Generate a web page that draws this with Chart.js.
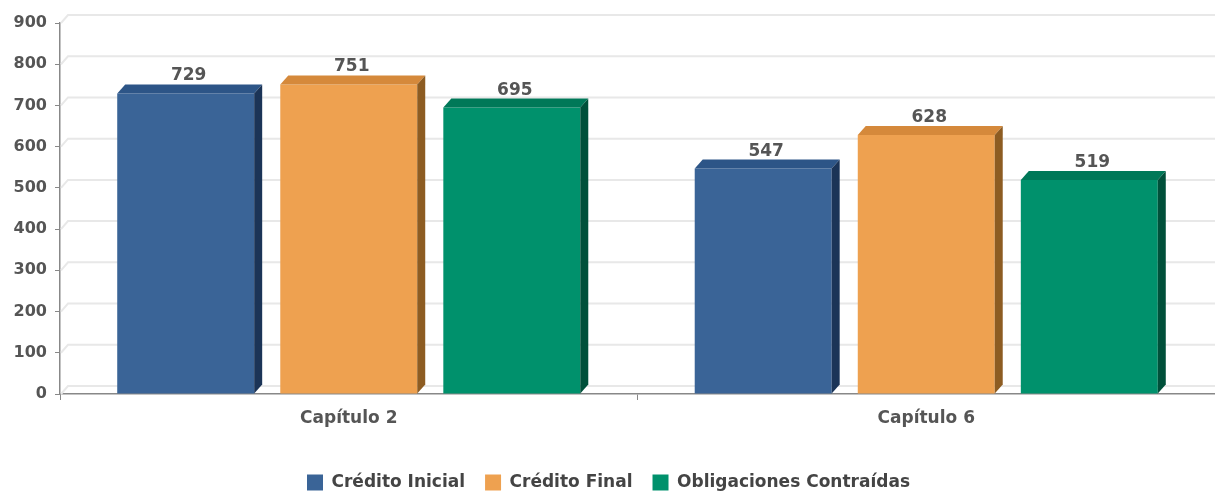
<!DOCTYPE html>
<html lang="es">
<head>
  <meta charset="UTF-8" />
  <title>Capítulo 2 y 6</title>
  <script src="https://cdn.jsdelivr.net/npm/chart.js"></script>
  <style>
    html, body { margin: 0; padding: 0; background: #fff; }
    #wrap { width: 1215px; height: 492px; }
  </style>
</head>
<body>
  <div id="wrap"><canvas id="grafico"></canvas></div>
  <script>
    // datos
    const capitulos = ["Capítulo 2", "Capítulo 6"];
    const creditoInicial = [729, 547];
    const creditoFinal = [751, 628];
    const obligaciones = [695, 519];
    const series = ["Crédito Inicial", "Crédito Final", "Obligaciones Contraídas"];
    const ticksY = [0, 100, 200, 300, 400, 500, 600, 700, 800, 900];

    const colores = [
      { frente: "#3a6497", arriba: "#2d5587", lado: "#1b3457" },
      { frente: "#eea150", arriba: "#d5893b", lado: "#8d5c22" },
      { frente: "#00916c", arriba: "#007858", lado: "#00503a" }
    ];
    const prof = { x: 8, y: 9 };

    Chart.defaults.font.family = "'DejaVu Sans', sans-serif";

    // efecto 3D: fondo, caras de arriba y laterales, etiquetas de valor
    const efecto3d = {
      id: "efecto3d",
      beforeInit(chart) {
        const fitOrig = chart.legend.fit;
        chart.legend.fit = function () {
          fitOrig.call(this);
          this.height = 38;
        };
      },
      beforeDatasetsDraw(chart) {
        const { ctx, chartArea: a, scales: { y } } = chart;
        ctx.save();
        ctx.lineWidth = 2;
        ctx.strokeStyle = "#e8e8e8";
        ticksY.forEach(v => {
          const py = y.getPixelForValue(v);
          ctx.beginPath();
          ctx.moveTo(a.left + 1, py);
          ctx.lineTo(a.left + 8, py - 8);
          ctx.lineTo(a.right, py - 8);
          ctx.stroke();
        });
        ctx.restore();
      },
      afterDatasetsDraw(chart) {
        const ctx = chart.ctx;
        ctx.save();
        chart.data.datasets.forEach((ds, i) => {
          const c = colores[i];
          chart.getDatasetMeta(i).data.forEach((bar, j) => {
            const l = bar.x - bar.width / 2, r = bar.x + bar.width / 2;
            const t = bar.y, b = bar.base;
            ctx.fillStyle = c.arriba;
            ctx.beginPath();
            ctx.moveTo(l, t);
            ctx.lineTo(l + prof.x, t - prof.y);
            ctx.lineTo(r + prof.x, t - prof.y);
            ctx.lineTo(r, t);
            ctx.closePath();
            ctx.fill();
            ctx.fillStyle = c.lado;
            ctx.beginPath();
            ctx.moveTo(r, t);
            ctx.lineTo(r + prof.x, t - prof.y);
            ctx.lineTo(r + prof.x, b - prof.y);
            ctx.lineTo(r, b);
            ctx.closePath();
            ctx.fill();
            ctx.fillStyle = "#555";
            ctx.font = "bold 17px 'DejaVu Sans'";
            ctx.textAlign = "center";
            ctx.textBaseline = "alphabetic";
            ctx.fillText(ds.data[j], bar.x + 3, t - prof.y - 4);
          });
        });
        ctx.restore();
      }
    };

    const valores = [creditoInicial, creditoFinal, obligaciones];

    new Chart(document.getElementById("grafico"), {
      type: "bar",
      data: {
        labels: capitulos,
        datasets: series.map((s, i) => ({
          label: s,
          data: valores[i],
          backgroundColor: colores[i].frente,
          borderWidth: 0,
          barPercentage: 0.84,
          categoryPercentage: 0.847
        }))
      },
      options: {
        responsive: true,
        maintainAspectRatio: false,
        animation: false,
        layout: { padding: { top: 23, left: 2, right: 0, bottom: 0 } },
        plugins: {
          tooltip: { enabled: false },
          legend: {
            position: "bottom",
            labels: {
              boxWidth: 16,
              boxHeight: 16,
              padding: 20,
              color: "#444",
              font: { size: 17, weight: "bold" }
            }
          }
        },
        scales: {
          x: {
            grid: { drawOnChartArea: false, tickLength: 6, color: "#888" },
            border: { color: "#888", width: 1.5 },
            ticks: { color: "#555", padding: 8, font: { size: 17, weight: "bold" } },
            afterFit(s) { s.height = 60; }
          },
          y: {
            min: 0,
            max: 900,
            grid: { drawOnChartArea: false, tickLength: 5, color: "#888" },
            border: { color: "#888", width: 1.5 },
            ticks: {
              stepSize: 100,
              color: "#555",
              padding: 8,
              font: { size: 16, weight: "bold" }
            },
            afterFit(s) { s.width = 58; }
          }
        }
      },
      plugins: [efecto3d]
    });
  </script>
</body>
</html>
